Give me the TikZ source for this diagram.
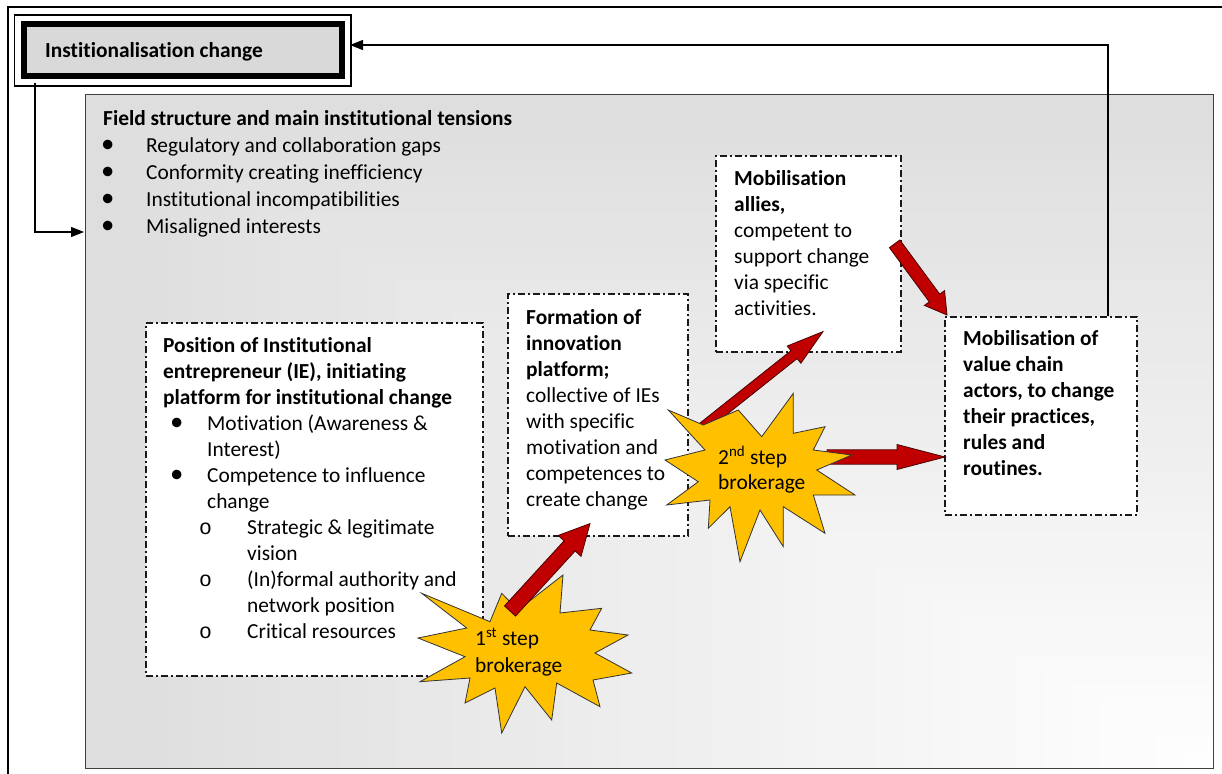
\documentclass[tikz,border=0pt]{standalone}
\usepackage{fontspec}
\setmainfont{Carlito}[Ligatures={NoCommon,NoRequired,NoContextual}]
\newfontfamily\monof{Liberation Mono}
\usetikzlibrary{calc,arrows.meta}
\definecolor{starY}{HTML}{FFC000}
\definecolor{arrR}{HTML}{C00000}
\definecolor{arrE}{HTML}{4A0000}
\definecolor{titleG}{HTML}{D9D9D9}
\definecolor{frameG}{HTML}{404040}
\newcommand\bigbul{\scalebox{1.25}{\textbullet}}
\newcommand\fbul{\hspace*{-2pt}\makebox[45pt][l]{\bigbul}}
\newcommand\pbul{\hspace*{7pt}\makebox[37pt][l]{\bigbul}}
\newcommand\pind{\hspace*{44pt}}
\newcommand\obul{\hspace*{36pt}\makebox[48pt][l]{\monof o}}
\newcommand\oind{\hspace*{84pt}}
\newcommand\blockarr[5]{%
 \draw[barrow] let \p1=(#1), \p2=(#2),
   \n1={atan2(\y2-\y1,\x2-\x1)}, \n2={veclen(\x2-\x1,\y2-\y1)-#5} in
   ($(\p1)+({\n1+90}:#3pt)$)
   -- ($(\p1)+({\n1+90}:#3pt)+({\n1}:\n2)$)
   -- ($(\p1)+({\n1+90}:#4pt)+({\n1}:\n2)$)
   -- (\p2)
   -- ($(\p1)+({\n1-90}:#4pt)+({\n1}:\n2)$)
   -- ($(\p1)+({\n1-90}:#3pt)+({\n1}:\n2)$)
   -- ($(\p1)+({\n1-90}:#3pt)$) -- cycle;}
\begin{document}
\begin{tikzpicture}[x=1pt,y=-1pt,
  txt/.style={inner sep=0pt, anchor=north west, align=left, font=\fontsize{21.4}{26}\selectfont, text=black},
  dbox/.style={draw=black!90, fill=white, line width=1.6pt, dash pattern=on 7pt off 3pt on 2pt off 3pt, inner sep=0pt, anchor=north west},
  conn/.style={draw=black, line width=1.3pt, -{Triangle[length=13pt,width=10pt]}},
  starsty/.style={draw=black!80, line width=0.8pt, fill=starY, line join=miter},
  barrow/.style={draw=arrE, line width=0.8pt, fill=arrR, line join=miter}]
\clip (0,0) rectangle (1222,773);
\fill[white] (0,0) rectangle (1222,773);
% outer frame
\draw[line width=1.4pt] (8,790) -- (8,7) -- (1240,7);
% field gradient
\foreach \i in {40,...,1}{
  \pgfmathsetmacro\t{\i/40}
  \pgfmathsetmacro\c{13*\t}
  \fill[black!\c] (1213-1128*\t, 768-674*\t) rectangle (1213,768);
}
\node[draw=frameG, line width=1.3pt, minimum width=1128pt, minimum height=674pt, inner sep=0pt, anchor=north west] (fb) at (85,94) {};
\node[txt, font=\fontsize{21.4}{27}\selectfont] (fbt) at (103,105) {\rule{0pt}{20pt}\textbf{Field structure and main institutional tensions}\\
\fbul Regulatory and collaboration gaps\\
\fbul Conformity creating inefficiency\\
\fbul Institutional incompatibilities\\
\fbul Misaligned interests};
% title box
\node[draw=black, line width=6pt, fill=titleG, minimum width=317.5pt, minimum height=52pt, inner sep=0pt] (ic) at (182.75,50.5) {};
\draw[line width=1.1pt] ($(ic.north west)+(-6.5,-6.5)$) rectangle ($(ic.south east)+(6.5,6.5)$);
\node[inner sep=0pt, anchor=base west, font=\fontsize{21.4}{26}\selectfont\bfseries] (ict) at (45,58) {Institionalisation change};
% boxes
\node[dbox, minimum width=337pt, minimum height=353pt] (pos) at (145,322) {};
\node[dbox, minimum width=180pt, minimum height=242pt] (form) at (507,293) {};
\node[dbox, minimum width=185pt, minimum height=196pt] (ally) at (715,155) {};
\node[dbox, minimum width=192pt, minimum height=198pt] (vc) at (944,316) {};
\node[txt] (post) at (163,332) {\rule{0pt}{20pt}\textbf{Position of Institutional}\\
\textbf{entrepreneur (IE), initiating}\\
\textbf{platform for institutional change}\\
\pbul Motivation (Awareness \&\\
\pind Interest)\\
\pbul Competence to influence\\
\pind change\\
\obul Strategic \& legitimate\\
\oind vision\\
\obul (In)formal authority and\\
\oind network position\\
\obul Critical resources};
\node[txt] (formt) at (526,304) {\rule{0pt}{20pt}\textbf{Formation of}\\
\textbf{innovation}\\
\textbf{platform;}\\
collective of IEs\\
with specific\\
motivation and\\
competences to\\
create change};
\node[txt] (allyt) at (734,165) {\rule{0pt}{20pt}\textbf{Mobilisation}\\
\textbf{allies,}\\
competent to\\
support change\\
via specific\\
activities.};
\node[txt] (vct) at (963,325) {\rule{0pt}{20pt}\textbf{Mobilisation of}\\
\textbf{value chain}\\
\textbf{actors, to change}\\
\textbf{their practices,}\\
\textbf{rules and}\\
\textbf{routines.}};
% connectors
\coordinate (ictip) at (350,45);
\draw[conn] ($(vc.north west)+(164,0)$) |- (ictip);
\coordinate (icbot) at (35,83);
\coordinate (fbin) at ($(fb.north west)+(-1,138)$);
\draw[conn] (icbot) |- (fbin);
% arrow endpoints
\coordinate (aAs) at (510,611);
\coordinate (aAe) at ($(form.south west)+(83,-13)$);
\coordinate (aBs) at (703,427);
\coordinate (aBe) at ($(ally.south west)+(108,-21)$);
\coordinate (aCs) at (827,457);
\coordinate (aCe) at ($(vc.north west)+(1,141)$);
\coordinate (aDs) at ($(ally.east)+(-7,-10)$);
\coordinate (aDe) at ($(vc.north west)+(3,-1)$);
% arrows behind star 2
\blockarr{aBs}{aBe}{5}{11}{37}
\blockarr{aCs}{aCe}{7.2}{12.5}{48}
% star 2
\draw[starsty] (668.3,410) -- (703.3,425) -- (738.3,410) -- (761.7,436.7) -- (793.3,393.3) -- (793.3,433.3) -- (825,426.7) -- (813.3,450) -- (851.7,455) -- (816.7,470) -- (855,495) -- (813.3,495) -- (825,533.3) -- (783.3,506.7) -- (783.3,546.7) -- (760,510) -- (740,561.7) -- (730,506.7) -- (708.3,528.3) -- (710,500) -- (666.7,505) -- (698.3,481.7) -- (665,460) -- (705,450) -- cycle;
% star 1
\draw[starsty] (421.7,593.3) -- (490,621.7) -- (501.7,593.3) -- (518,610) -- (563,575) -- (560,613) -- (601.7,608.3) -- (590,630) -- (628,635) -- (595,653) -- (631.7,673) -- (593,680) -- (600,706.7) -- (556.7,683) -- (551.7,720) -- (525,686.7) -- (501.7,733) -- (495,688) -- (465,703) -- (470,678) -- (420,681.7) -- (465,656.7) -- (418,638) -- (466.7,628) -- cycle;
% arrows over
\blockarr{aAs}{aAe}{7.5}{15.5}{30}
\blockarr{aDs}{aDe}{6.5}{12.5}{21}
% star labels
\node[txt, font=\fontsize{21.4}{27}\selectfont] (s1) at (475,625) {\rule{0pt}{20pt}1\textsuperscript{st} step\\brokerage};
\node[txt, font=\fontsize{21.4}{25}\selectfont] (s2) at (718,444) {\rule{0pt}{20pt}2\textsuperscript{nd} step\\brokerage};
\end{tikzpicture}
\end{document}
